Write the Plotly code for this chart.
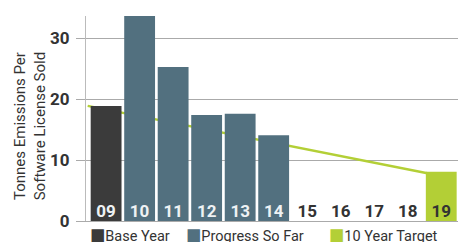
import plotly.graph_objects as go

years = ["09", "10", "11", "12", "13", "14", "15", "16", "17", "18", "19"]
base_years = ["09"]
base_values = [18.9]
progress_years = ["10", "11", "12", "13", "14"]
progress_values = [35.0, 25.3, 17.4, 17.6, 14.1]
target_years = ["19"]
target_values = [8.1]
trend_positions = [-0.55, 10.0]
trend_values = [18.9, 7.4]
legend_labels = ["Base Year", "Progress So Far", "10 Year Target"]
y_ticks = [0, 10, 20, 30]

C_BASE = "#3b3b3b"
C_PROG = "#52707f"
C_TARGET = "#b3cf36"
C_TEXT = "#333333"
FONT = "Roboto, DejaVu Sans Condensed, sans-serif"
X_RANGE = [-0.6, 10.5]
Y_RANGE = [0, 33.66]

idx = {y: i for i, y in enumerate(years)}

fig = go.Figure()
# target trend line sits on the base subplot so the bars (overlay subplot) cover it
fig.add_trace(go.Scatter(x=trend_positions, y=trend_values, mode="lines",
                         line=dict(color=C_TARGET, width=2.5), hoverinfo="skip",
                         showlegend=False, xaxis="x", yaxis="y"))
fig.add_trace(go.Bar(x=[idx[y] for y in base_years], y=base_values, marker_color=C_BASE,
                     marker_line_width=0, width=0.92, name=legend_labels[0], showlegend=False,
                     xaxis="x2", yaxis="y2"))
fig.add_trace(go.Bar(x=[idx[y] for y in progress_years], y=progress_values, marker_color=C_PROG,
                     marker_line_width=0, width=0.92, name=legend_labels[1], showlegend=False,
                     xaxis="x2", yaxis="y2"))
fig.add_trace(go.Bar(x=[idx[y] for y in target_years], y=target_values, marker_color=C_TARGET,
                     marker_line_width=0, width=0.92, name=legend_labels[2], showlegend=False,
                     xaxis="x2", yaxis="y2"))

filled = set(base_years) | set(progress_years)
label_colors = ["#eef2f4" if y in filled else C_TEXT for y in years]
fig.add_trace(go.Scatter(x=list(range(len(years))), y=[0] * len(years), mode="text",
                         text=years, textposition="top center",
                         textfont=dict(family=FONT, size=17, color=label_colors, weight="bold"),
                         hoverinfo="skip", showlegend=False, xaxis="x2", yaxis="y2"))

fig.update_layout(
    width=459, height=242,
    margin=dict(l=86, r=1, t=16, b=21),
    paper_bgcolor="white", plot_bgcolor="white",
    barmode="overlay",
    font=dict(family=FONT, color=C_TEXT),
    xaxis=dict(range=X_RANGE, showticklabels=False, showgrid=False, zeroline=False,
               showline=True, linecolor="#aaaaaa", linewidth=1, ticks=""),
    yaxis=dict(range=Y_RANGE, tickvals=y_ticks, showgrid=True, gridcolor="#aaaaaa",
               gridwidth=1, zeroline=False, showline=True, linecolor="#bbbbbb", linewidth=1,
               ticks="outside", ticklen=9, tickcolor="#aaaaaa", tickwidth=1,
               tickfont=dict(family=FONT, size=17, color=C_TEXT, weight="bold"),
               ticklabelstandoff=3),
    xaxis2=dict(range=X_RANGE, overlaying="x", visible=False, showgrid=False, zeroline=False),
    yaxis2=dict(range=Y_RANGE, overlaying="y", visible=False, showgrid=False, zeroline=False),
    showlegend=False,
)

fig.add_annotation(text="Tonnes Emissions Per<br>Software License Sold", textangle=-90,
                   xref="paper", yref="paper", x=-0.150, y=0.463, xanchor="center",
                   yanchor="middle", showarrow=False,
                   font=dict(family=FONT, size=15, color=C_TEXT))

legend_colors = [C_BASE, C_PROG, C_TARGET]
legend_x = [0.005, 0.263, 0.648]
for lab, col, lx in zip(legend_labels, legend_colors, legend_x):
    fig.add_annotation(text=f"<span style='color:{col};font-size:18px'>■</span>{lab}",
                       xref="paper", yref="paper", x=lx, y=-0.068, xanchor="left",
                       yanchor="middle", showarrow=False,
                       font=dict(family=FONT, size=14.5, color=C_TEXT))

fig.write_html("out.html", config={"displayModeBar": False},
               post_script="document.body.style.margin='0px';")
